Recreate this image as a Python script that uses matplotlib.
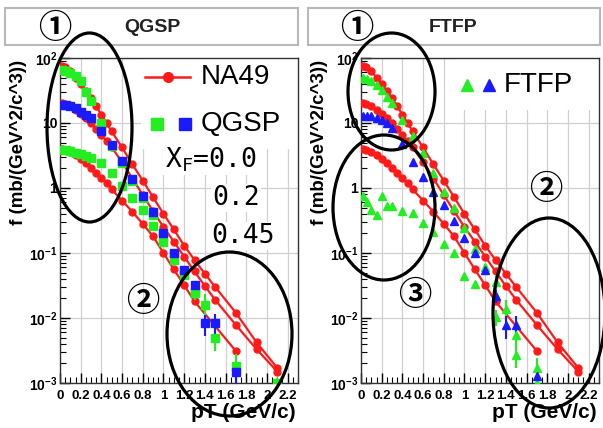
import numpy as np
import matplotlib
matplotlib.use("Agg")
import matplotlib.pyplot as plt
from matplotlib.patches import Ellipse, Rectangle
from matplotlib.ticker import FixedLocator, FixedFormatter, LogLocator, NullFormatter

plt.rcParams['font.family'] = ['Liberation Sans', 'DejaVu Sans']
plt.rcParams['mathtext.fontset'] = 'custom'
plt.rcParams['mathtext.rm'] = 'Liberation Sans'
plt.rcParams['mathtext.bf'] = 'Liberation Sans:bold'
plt.rcParams['mathtext.default'] = 'bf'

nan = np.nan

# --- NA49 data (same in both panels) ---
pt_na49 = [0.02, 0.05, 0.1, 0.15, 0.2, 0.25, 0.3, 0.35, 0.4, 0.45, 0.5, 0.6, 0.7,
           0.8, 0.9, 1.0, 1.1, 1.2, 1.3, 1.4, 1.5, 1.7, 1.9, 2.1]
na49_xf00 = [75, 72, 62, 50, 40, 31, 24, 18, 13.5, 10, 7.4, 4.2, 2.3,
             1.3, 0.72, 0.40, 0.23, 0.13, 0.078, 0.048, 0.030, 0.012, 0.0042, 0.0017]
na49_xf02 = [20, 19.5, 18, 16, 14, 12, 10, 8.2, 6.6, 5.3, 4.2, 2.5, 1.4,
             0.78, 0.44, 0.25, 0.15, 0.088, 0.052, 0.031, 0.019, 0.0078, 0.0033, 0.0015]
pt_na49_045 = [0.02, 0.05, 0.1, 0.15, 0.2, 0.25, 0.3, 0.35, 0.4, 0.45, 0.5, 0.6, 0.7,
               0.8, 0.9, 1.0, 1.1, 1.2, 1.3, 1.7]
na49_xf045 = [4.0, 3.9, 3.6, 3.2, 2.8, 2.4, 2.0, 1.7, 1.42, 1.18, 0.95, 0.64, 0.43,
              0.28, 0.18, 0.10, 0.056, 0.032, 0.018, 0.0031]

# --- simulation points ---
pt_sim = [0.02, 0.06, 0.1, 0.15, 0.2, 0.25, 0.3, 0.4, 0.5, 0.6, 0.7, 0.8, 0.9,
          1.0, 1.1, 1.2, 1.3, 1.4, 1.5, 1.7, 2.1]

qgsp_xf00 = [65, 63, 58, 52, 45, 30, 22, 10, 4.4, 2.4, 1.3, 0.70, 0.38,
             0.18, 0.095, 0.052, 0.025, 0.016, 0.0049, 0.0018, 0.001]
qgsp_xf00_err = [0, 0, 0, 0, 0, 0, 0, 0, 0, 0, 0, 0, 0,
                 0, 0, 0, 0.006, 0.007, 0.0018, 0.001, 0.0002]
qgsp_xf02 = [19, 19, 18.5, 17, 15, 13.5, 12, 7.4, 4.6, 2.6, 1.4, 0.74, 0.42,
             0.20, 0.10, 0.055, 0.032, 0.0083, 0.0085, 0.0015, nan]
qgsp_xf02_err = [0, 0, 0, 0, 0, 0, 0, 0, 0, 0, 0, 0, 0,
                 0, 0, 0, 0.005, 0.003, 0.003, 0.0005, 0]
qgsp_xf045 = [3.9, 3.8, 3.7, 3.5, 3.3, 3.1, 2.9, 2.4, 1.7, 1.06, 0.70, 0.46, 0.26,
              0.15, 0.079, 0.046, 0.024, nan, nan, nan, nan]
qgsp_xf045_err = [0, 0, 0, 0, 0, 0, 0, 0, 0, 0, 0, 0, 0,
                  0, 0, 0.005, 0.004, 0, 0, 0, 0]

ftfp_xf00 = [50, 48, 44, 38, 32, 25, 20, 11, 6.4, 3.5, 1.7, 0.88, 0.49,
             0.24, 0.115, 0.06, 0.036, 0.014, 0.0055, 0.0017, nan]
ftfp_xf00_err = [0, 0, 0, 0, 0, 0, 0, 0, 0, 0, 0, 0, 0,
                 0, 0, 0.008, 0.01, 0.005, 0.002, 0.0007, 0]
ftfp_xf02 = [13, 13, 12.8, 12, 11, 10, 8.5, 4.8, 2.5, 1.5, 0.88, 0.55, 0.31,
             0.17, 0.10, 0.055, 0.022, 0.0077, 0.0077, 0.0013, nan]
ftfp_xf02_err = [0, 0, 0, 0, 0, 0, 0, 0, 0, 0, 0, 0, 0,
                 0, 0, 0, 0.005, 0.003, 0.003, 0.0005, 0]
ftfp_xf045 = [0.75, 0.60, 0.46, 0.38, 0.74, 0.52, 0.52, 0.44, 0.41, 0.29, 0.21, 0.14, 0.10,
              0.044, 0.033, nan, 0.0104, nan, 0.0027, 0.001, nan]
ftfp_xf045_err = [0, 0, 0, 0, 0, 0, 0, 0, 0, 0, 0, 0, 0,
                  0, 0, 0, 0.003, 0, 0.001, 0.0003, 0]

xtick_vals = [0, 0.2, 0.4, 0.6, 0.8, 1.0, 1.2, 1.4, 1.6, 1.8, 2.0, 2.2]
xtick_labels = ['0', '0.2', '0.4', '0.6', '0.8', '1', '1.2', '1.4', '1.6', '1.8', '2', '2.2']
ytick_vals = [1e-3, 1e-2, 1e-1, 1, 10, 100]
ytick_labels = ['$10^{-3}$', '$10^{-2}$', '$10^{-1}$', '1', '10', '$10^{2}$']

RED = '#ff1a1a'
GREEN = '#22ee22'
BLUE = '#1a1aff'

W, H = 603, 428
fig = plt.figure(figsize=(W / 100, H / 100), dpi=100)


def px_axes(x0, y0, x1, y1):
    return fig.add_axes([x0 / W, 1 - y1 / H, (x1 - x0) / W, (y1 - y0) / H])


def setup_axes(ax):
    ax.set_yscale('log')
    ax.set_xlim(0, 2.3)
    ax.set_ylim(1e-3, 1e2)
    ax.xaxis.set_major_locator(FixedLocator(xtick_vals))
    ax.xaxis.set_major_formatter(FixedFormatter(xtick_labels))
    ax.xaxis.set_minor_locator(FixedLocator(np.arange(0, 2.31, 0.05)))
    ax.yaxis.set_major_locator(FixedLocator(ytick_vals))
    ax.yaxis.set_major_formatter(FixedFormatter(ytick_labels))
    ax.yaxis.set_minor_locator(LogLocator(base=10, subs=np.arange(2, 10)))
    ax.yaxis.set_minor_formatter(NullFormatter())
    ax.tick_params(which='both', direction='in', top=False, right=False)
    ax.tick_params(which='major', length=7, width=1)
    ax.tick_params(which='minor', length=4, width=0.8)
    ax.tick_params(axis='x', labelsize=9.5, pad=5)
    ax.tick_params(axis='y', labelsize=10, pad=2)
    for lab in ax.get_xticklabels() + ax.get_yticklabels():
        lab.set_fontweight('bold')
    ax.grid(True, which='major', color='#d0d0d0', lw=0.9)
    ax.set_axisbelow(True)
    for s in ax.spines.values():
        s.set_color('#333333')
        s.set_linewidth(1.0)


def draw_na49(ax):
    for pt, vals in [(pt_na49, na49_xf00), (pt_na49, na49_xf02), (pt_na49_045, na49_xf045)]:
        ax.plot(pt, vals, '-o', color=RED, lw=1.6, ms=5, zorder=3)


def draw_sim(ax, series, marker):
    for vals, err, col in series:
        ax.errorbar(pt_sim, vals, yerr=err, fmt=marker, color=col, ms=5.5,
                    elinewidth=1.5, capsize=0, ls='none', zorder=4)


# --- left panel: QGSP ---
axL = px_axes(60, 58, 298, 383)
setup_axes(axL)
draw_na49(axL)
draw_sim(axL, [(qgsp_xf00, qgsp_xf00_err, GREEN),
               (qgsp_xf045, qgsp_xf045_err, GREEN),
               (qgsp_xf02, qgsp_xf02_err, BLUE)], 's')

axL.add_patch(Rectangle((0.34, 0.72), 0.66, 0.28, transform=axL.transAxes,
                        facecolor='white', edgecolor='none', zorder=1.5))
axL.plot([0.357, 0.546], [0.942, 0.942], '-', color=RED, lw=1.8, transform=axL.transAxes, zorder=5)
axL.plot([0.454], [0.942], 'o', color=RED, ms=7, transform=axL.transAxes, zorder=5)
axL.text(0.59, 0.942, 'NA49', transform=axL.transAxes, fontsize=20, va='center', ha='left',
         family=['Liberation Sans Narrow', 'Liberation Sans'], zorder=5)
axL.plot([0.408], [0.797], 's', color=GREEN, ms=8, transform=axL.transAxes, zorder=5)
axL.plot([0.525], [0.797], 's', color=BLUE, ms=8, transform=axL.transAxes, zorder=5)
axL.text(0.59, 0.797, 'QGSP', transform=axL.transAxes, fontsize=20, va='center', ha='left',
         family=['Liberation Sans Narrow', 'Liberation Sans'], zorder=5)
axL.text(0.44, 0.686, 'X$_\\mathregular{F}$=0.0', transform=axL.transAxes, fontsize=19,
         va='center', ha='left', family='DejaVu Sans Mono', zorder=5,
         bbox=dict(facecolor='white', edgecolor='none', pad=1))
axL.text(0.64, 0.569, '0.2', transform=axL.transAxes, fontsize=19, va='center', ha='left',
         family='DejaVu Sans Mono', zorder=5, bbox=dict(facecolor='white', edgecolor='none', pad=1))
axL.text(0.635, 0.452, '0.45', transform=axL.transAxes, fontsize=19, va='center', ha='left',
         family='DejaVu Sans Mono', zorder=5, bbox=dict(facecolor='white', edgecolor='none', pad=1))

# --- right panel: FTFP ---
axR = px_axes(361, 58, 599, 383)
setup_axes(axR)
draw_na49(axR)
draw_sim(axR, [(ftfp_xf00, ftfp_xf00_err, GREEN),
               (ftfp_xf045, ftfp_xf045_err, GREEN),
               (ftfp_xf02, ftfp_xf02_err, BLUE)], '^')

axR.add_patch(Rectangle((0.40, 0.84), 0.60, 0.16, transform=axR.transAxes,
                        facecolor='white', edgecolor='none', zorder=1.5))
axR.plot([0.445], [0.917], '^', color=GREEN, ms=8, transform=axR.transAxes, zorder=5)
axR.plot([0.538], [0.917], '^', color=BLUE, ms=8, transform=axR.transAxes, zorder=5)
axR.text(0.60, 0.917, 'FTFP', transform=axR.transAxes, fontsize=20, va='center', ha='left',
         family=['Liberation Sans Narrow', 'Liberation Sans'], zorder=5)

# axis labels, ROOT style
for xl, ax in [(19, axL), (320, axR)]:
    fig.text(xl / W, 1 - 60 / H, 'f (mb/(GeV^2/c^3))', rotation=90, ha='center', va='top',
             fontsize=13.5, fontweight='bold')
    bb = ax.get_position()
    fig.text(bb.x1 - 2 / W, 1 - 413 / H, 'pT (GeV/c)', ha='right', va='center',
             fontsize=15, fontweight='bold')

# --- overlay: title boxes, ellipses, circled numbers ---
ov = fig.add_axes([0, 0, 1, 1], zorder=10)
ov.set_xlim(0, W)
ov.set_ylim(H, 0)
ov.axis('off')

ov.add_patch(Rectangle((5, 8), 293, 37, facecolor='white', edgecolor='#b8b8b8', lw=1.5))
ov.add_patch(Rectangle((308, 8), 292, 37, facecolor='white', edgecolor='#b8b8b8', lw=1.5))
ov.text(152, 27, 'QGSP', ha='center', va='center', fontsize=14, fontweight='bold', color='#222222')
ov.text(453, 27, 'FTFP', ha='center', va='center', fontsize=14, fontweight='bold', color='#222222')

ellipses = [((89.5, 127.5), 85, 189), ((229.5, 334), 125, 164),
            ((391.5, 91.5), 87, 117), ((384, 207.5), 102, 145), ((549, 313), 112, 190)]
for c, w, h in ellipses:
    ov.add_patch(Ellipse(c, w, h, facecolor='none', edgecolor='black', lw=2.3))

circ_font = ['Noto Sans CJK JP', 'DejaVu Sans']
for x, y, s in [(55, 28, '①'), (143, 301, '②'), (357, 28, '①'), (546, 189, '②'), (415, 296, '③')]:
    ov.text(x, y, s, ha='center', va='center', fontsize=24, fontweight='bold', family=circ_font)

fig.savefig('out.png', dpi=100)
